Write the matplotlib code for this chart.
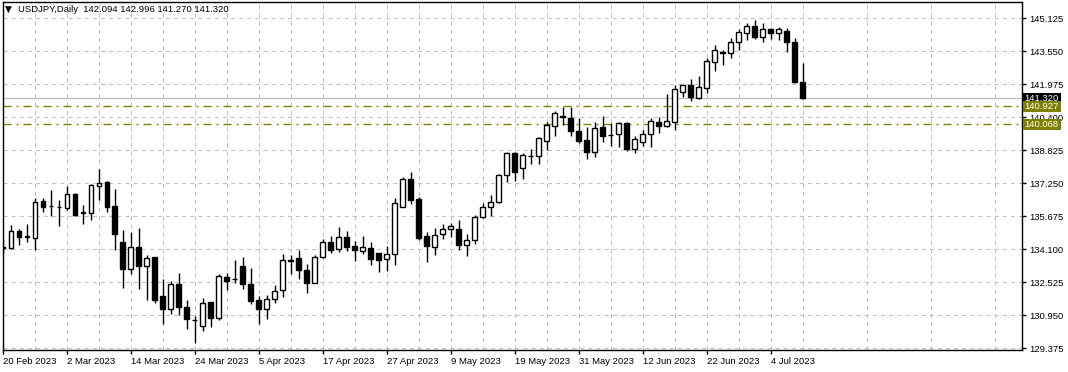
import matplotlib
matplotlib.use("Agg")
import matplotlib.pyplot as plt
import matplotlib.transforms as mtransforms
from matplotlib.patches import Rectangle

# daily USDJPY candles, 20 Feb 2023 .. 10 Jul 2023
opens = [134.15, 134.16, 134.96, 134.68, 134.64, 136.42, 136.18, 136.12, 136.09, 136.76,
         135.85, 135.85, 137.14, 137.30, 136.15, 134.43, 133.18, 134.19, 133.30, 133.72,
         131.86, 131.25, 132.43, 131.33, 130.72, 130.42, 131.57, 130.81, 132.76, 132.66,
         133.29, 132.43, 131.70, 131.27, 131.75, 132.14, 133.56, 133.67, 133.11, 132.51,
         133.75, 134.45, 134.10, 134.68, 134.27, 134.00, 134.16, 133.92, 133.62, 133.86,
         136.10, 137.46, 136.50, 134.75, 134.21, 134.83, 135.07, 135.09, 134.31, 134.55,
         135.64, 136.12, 136.34, 137.63, 138.70, 137.97, 138.53, 138.54, 139.29, 140.00,
         140.43, 140.35, 139.75, 139.32, 138.76, 139.92, 139.56, 139.59, 140.11, 138.87,
         139.24, 139.59, 140.16, 140.00, 140.19, 141.62, 141.94, 141.34, 141.82, 143.06,
         143.50, 143.45, 144.01, 144.41, 144.76, 144.22, 144.60, 144.41, 144.52, 143.98,
         142.094]
highs = [134.53, 135.25, 135.05, 135.33, 136.55, 136.55, 136.92, 136.44, 137.11, 136.78,
         136.20, 137.23, 137.92, 137.35, 136.96, 135.01, 134.93, 135.10, 133.81, 133.72,
         132.68, 132.60, 132.99, 131.68, 130.92, 131.76, 131.57, 132.92, 132.95, 133.60,
         133.75, 133.19, 131.89, 131.92, 132.40, 133.88, 133.85, 134.07, 133.40, 133.83,
         134.59, 134.75, 135.15, 134.99, 134.51, 134.75, 134.46, 133.93, 134.24, 136.55,
         137.57, 137.81, 136.58, 134.91, 135.12, 135.32, 135.36, 135.52, 134.83, 135.75,
         136.31, 136.71, 137.71, 138.73, 138.73, 138.70, 138.89, 139.46, 140.19, 140.72,
         140.91, 140.91, 140.38, 139.95, 140.19, 140.46, 140.15, 140.19, 140.19, 139.51,
         139.80, 140.35, 140.40, 141.51, 141.94, 141.99, 142.23, 142.37, 143.25, 143.85,
         143.61, 144.17, 144.62, 144.89, 145.05, 144.89, 144.65, 144.70, 144.65, 144.17,
         142.996]
lows = [133.89, 134.10, 134.31, 134.45, 134.05, 135.88, 135.67, 135.21, 135.99, 135.69,
        135.29, 135.48, 136.44, 135.88, 134.07, 132.25, 132.94, 132.21, 131.67, 131.54,
        130.55, 130.99, 130.96, 130.31, 129.64, 130.20, 130.41, 130.73, 132.16, 132.51,
        132.19, 131.49, 130.55, 130.78, 131.52, 131.84, 132.92, 132.70, 132.03, 132.48,
        133.67, 133.92, 133.96, 134.00, 133.53, 133.89, 133.37, 133.00, 133.08, 133.34,
        136.10, 136.28, 134.55, 133.48, 133.84, 134.61, 134.69, 134.08, 133.77, 134.37,
        135.60, 135.67, 136.31, 137.30, 137.38, 137.47, 138.19, 138.19, 138.84, 139.51,
        140.03, 139.51, 139.19, 138.41, 138.52, 139.24, 139.03, 138.99, 138.79, 138.71,
        139.03, 139.00, 139.64, 139.92, 139.80, 141.39, 141.20, 141.26, 141.58, 142.61,
        142.90, 143.25, 143.61, 144.09, 144.14, 143.98, 144.14, 144.09, 143.53, 142.05,
        141.270]
closes = [134.20, 134.96, 134.69, 134.72, 136.37, 136.12, 136.15, 136.10, 136.76, 135.72,
          135.88, 137.15, 137.28, 136.12, 134.83, 133.16, 134.19, 133.30, 133.67, 131.67,
          131.25, 132.46, 131.36, 130.79, 130.71, 131.52, 130.84, 132.81, 132.60, 132.68,
          132.43, 131.65, 131.25, 131.71, 132.10, 133.57, 133.59, 133.10, 132.51, 133.75,
          134.45, 134.05, 134.68, 134.20, 134.05, 134.21, 133.65, 133.61, 133.87, 136.31,
          137.46, 136.44, 134.66, 134.24, 134.78, 135.07, 135.23, 134.29, 134.55, 135.64,
          136.12, 136.36, 137.65, 138.70, 137.81, 138.60, 138.56, 139.43, 140.02, 140.59,
          140.46, 139.76, 139.29, 138.76, 139.87, 139.52, 139.55, 140.11, 138.89, 139.35,
          139.59, 140.23, 140.00, 140.21, 141.74, 141.93, 141.39, 141.83, 143.09, 143.61,
          143.47, 144.01, 144.46, 144.76, 144.25, 144.60, 144.41, 144.60, 144.01, 142.094,
          141.320]

date_labels = ["20 Feb 2023", "2 Mar 2023", "14 Mar 2023", "24 Mar 2023", "5 Apr 2023",
               "17 Apr 2023", "27 Apr 2023", "9 May 2023", "19 May 2023", "31 May 2023",
               "12 Jun 2023", "22 Jun 2023", "4 Jul 2023"]
price_ticks = [129.375, 130.950, 132.525, 134.100, 135.675, 137.250, 138.825,
               140.400, 141.975, 143.550, 145.125]
level_lines = [140.927, 140.068]
bid_price = 141.320
header = "USDJPY,Daily  142.094 142.996 141.270 141.320"

plt.rcParams['font.family'] = ['Liberation Sans', 'DejaVu Sans']
fs = 6.8
olive = "#808000"

fig = plt.figure(figsize=(10.68, 3.72), dpi=100)
ax = fig.add_axes([3 / 1068, 22 / 372, 1019 / 1068, 348 / 372])

idx = list(range(len(opens)))
ax.vlines(idx, lows, highs, color="black", lw=1.0, zorder=3)
bottoms = [min(o, c) for o, c in zip(opens, closes)]
heights = [max(abs(c - o), 0.02) for o, c in zip(opens, closes)]
fills = ["white" if c >= o else "black" for o, c in zip(opens, closes)]
ax.bar(idx, heights, bottom=bottoms, width=0.62, color=fills,
       edgecolor="black", linewidth=1.0, zorder=4)

# bid line and levels
ax.axhline(bid_price, color="#c0c0c0", lw=1.0, zorder=2)
for lv in level_lines:
    ax.axhline(lv, color=olive, lw=1.0, linestyle=(0, (5.8, 3.6, 1.4, 3.6)), zorder=2)

ax.set_xlim(0, 127.4)
ax.set_ylim(129.294, 145.904)

ax.set_xticks(range(0, 8 * len(date_labels), 8))
ax.set_xticklabels(date_labels, fontsize=fs, ha="left")
ax.set_xticks(range(4, 128, 8), minor=True)
ax.tick_params(axis="x", which="major", length=3, width=1, pad=2, direction="out")
ax.tick_params(axis="x", which="minor", length=0)

ax.yaxis.tick_right()
ax.set_yticks(price_ticks)
ax.set_yticklabels([f"{p:.3f}" for p in price_ticks], fontsize=fs)
ax.tick_params(axis="y", length=3, width=1, pad=2, direction="out")

ax.grid(True, which="both", color="#c0c0c0", lw=0.75, linestyle=(0, (3.9, 3.9)))
ax.set_axisbelow(True)
for sp in ax.spines.values():
    sp.set_color("black")
    sp.set_linewidth(1.0)

# price boxes on the right scale
trans = mtransforms.blended_transform_factory(ax.transAxes, ax.transData)
box_w = 38 / 1019
box_h = 11 / 20.952
for val, col in [(bid_price, "black"), (level_lines[0], olive), (level_lines[1], olive)]:
    ax.add_patch(Rectangle((1.0005, val - box_h / 2), box_w, box_h, transform=trans,
                           facecolor=col, edgecolor="none", clip_on=False, zorder=6))
    ax.text(1.0005 + box_w / 2, val, f"{val:.3f}", transform=trans, color="white",
            fontsize=fs, ha="center", va="center", clip_on=False, zorder=7)

ax.text(2 / 1019, 1 - 7 / 348, "\u25bc", transform=ax.transAxes, fontsize=6.5,
        va="center", ha="left", family="DejaVu Sans")
ax.text(15 / 1019, 1 - 7 / 348, header, transform=ax.transAxes, fontsize=fs,
        va="center", ha="left")

fig.savefig("out.png", dpi=100)
